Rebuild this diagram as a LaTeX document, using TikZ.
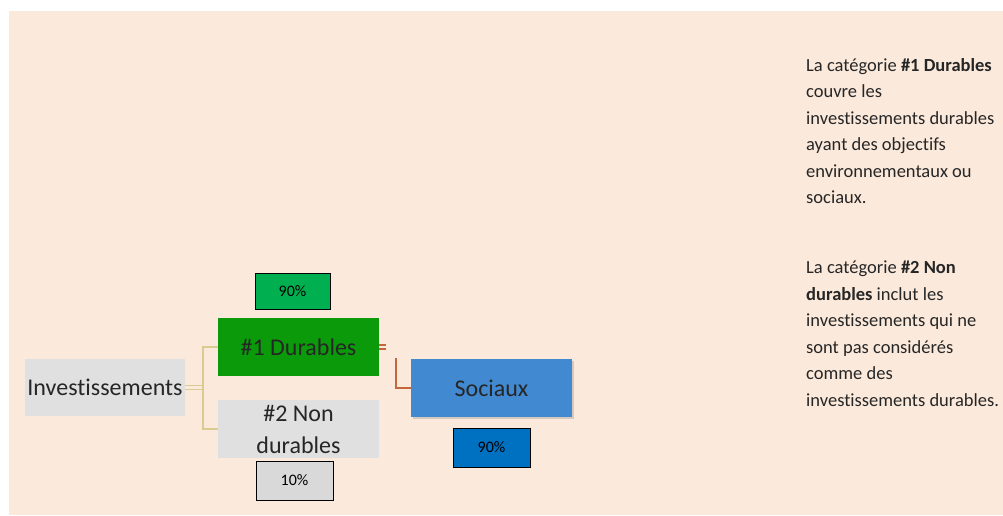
\documentclass[tikz,border=0pt]{standalone}
\usepackage{fontspec}
\setmainfont{Carlito}[RawFeature={-liga}]
\usetikzlibrary{shadows}
\definecolor{peach}{HTML}{FBE9DB}
\definecolor{boxgray}{HTML}{E0E0E0}
\definecolor{durgreen}{HTML}{0A9A0A}
\definecolor{socblue}{HTML}{4189D0}
\definecolor{pctgreen}{HTML}{00B050}
\definecolor{pctgray}{HTML}{D9D9D9}
\definecolor{pctblue}{HTML}{0070C0}
\definecolor{tanline}{HTML}{D9CC92}
\definecolor{redline}{HTML}{C4673F}
\definecolor{txtdark}{HTML}{262626}
\tikzset{
  mainbox/.style={minimum width=161pt, minimum height=58pt, inner sep=0pt, font=\fontsize{24}{32}\selectfont, text=txtdark, align=center},
  pctbox/.style={draw=black, line width=1pt, inner sep=0pt, font=\fontsize{16}{18}\selectfont, text=black},
  tanconn/.style={draw=tanline, line width=1.6pt},
  redconn/.style={draw=redline, line width=1.8pt},
  sidetext/.style={anchor=north west, align=left, font=\fontsize{18.5}{26.5}\selectfont, text=txtdark, inner sep=0pt},
}
\begin{document}
\begin{tikzpicture}[x=1pt,y=-1pt]
\useasboundingbox (0,0) rectangle (1003,515);
\fill[white] (0,0) rectangle (1003,515);
\fill[peach] (9,11) rectangle (1003,515);
% main boxes
\node[mainbox, fill=boxgray, minimum width=160pt, minimum height=57pt] (inv) at (105,387.5) {Investissements};
\node[mainbox, fill=durgreen] (dur) at (298.5,347) {\#1 Durables};
\node[mainbox, fill=boxgray] (non) at (298.5,429) {\#2 Non\\durables};
\node[mainbox, fill=socblue, drop shadow={shadow xshift=2pt, shadow yshift=-2pt, opacity=0.3}] (soc) at (491.5,388) {Sociaux};
% percentage boxes
\node[pctbox, fill=pctgreen, minimum width=75pt, minimum height=36pt] (p1) at (292.5,291) {90\%};
\node[pctbox, fill=pctgray, minimum width=77pt, minimum height=39pt] (p2) at (294.5,480.5) {10\%};
\node[pctbox, fill=pctblue, minimum width=77pt, minimum height=39pt] (p3) at (491.5,447.5) {90\%};
% connectors
\coordinate (tj) at (203,388);
\draw[tanconn] ([yshift=-2pt]inv.east) -- ++(18,0);
\draw[tanconn] ([yshift=2pt]inv.east) -- ++(18,0);
\draw[tanconn] (dur.west) -- (dur.west -| tj) -- (non.west -| tj) -- (non.west);
\coordinate (rj) at (396,388);
\draw[redconn] ([yshift=-2pt]dur.east) -- ++(7,0);
\draw[redconn] ([yshift=2pt]dur.east) -- ++(7,0);
\draw[redconn] (396,358) -- (soc.west -| rj) -- (soc.west);
% right text
\node[sidetext] (t1) at (806,58) {La catégorie \textbf{\#1 Durables}\\couvre les\\investissements durables\\ayant des objectifs\\environnementaux ou\\sociaux.};
\node[sidetext] (t2) at (806,261) {La catégorie \textbf{\#2 Non}\\\textbf{durables} inclut les\\investissements qui ne\\sont pas considérés\\comme des\\investissements durables.};
\end{tikzpicture}
\end{document}
